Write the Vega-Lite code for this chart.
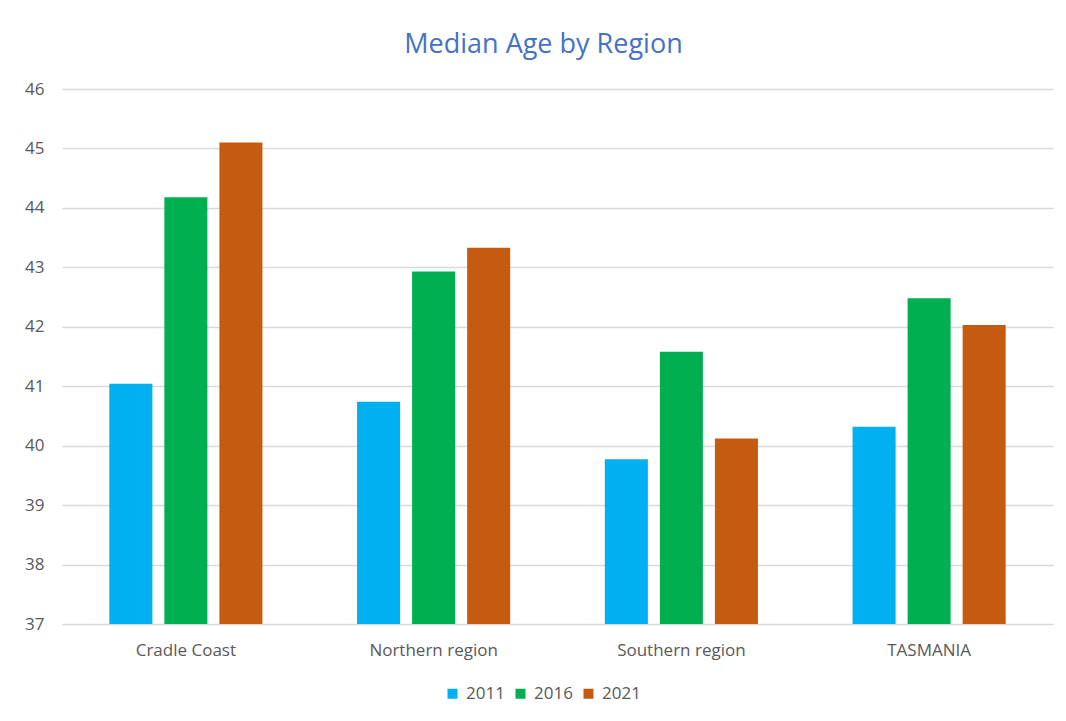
{
  "$schema": "https://vega.github.io/schema/vega-lite/v6.json",
  "autosize": {"type": "none"},
  "width": 991,
  "height": 535,
  "padding": {"left": 62, "top": 89, "right": 13, "bottom": 97},
  "background": "white",
  "title": {
    "text": "Median Age by Region",
    "font": "Open Sans",
    "fontSize": 27,
    "fontWeight": "normal",
    "color": "#4472C4",
    "anchor": "middle",
    "baseline": "alphabetic",
    "offset": 0,
    "dx": -14
  },
  "data": {
    "values": [
      {"region": "Cradle Coast", "year": "2011", "age": 41.04},
      {"region": "Cradle Coast", "year": "2016", "age": 44.18},
      {"region": "Cradle Coast", "year": "2021", "age": 45.1},
      {"region": "Northern region", "year": "2011", "age": 40.74},
      {"region": "Northern region", "year": "2016", "age": 42.93},
      {"region": "Northern region", "year": "2021", "age": 43.33},
      {"region": "Southern region", "year": "2011", "age": 39.77},
      {"region": "Southern region", "year": "2016", "age": 41.58},
      {"region": "Southern region", "year": "2021", "age": 40.12},
      {"region": "TASMANIA", "year": "2011", "age": 40.32},
      {"region": "TASMANIA", "year": "2016", "age": 42.48},
      {"region": "TASMANIA", "year": "2021", "age": 42.03}
    ]
  },
  "mark": {"type": "bar", "clip": true},
  "encoding": {
    "x": {
      "field": "region",
      "type": "nominal",
      "sort": null,
      "scale": {"paddingInner": 0.382, "paddingOuter": 0.191},
      "axis": {
        "title": null,
        "labelAngle": 0,
        "ticks": false,
        "domain": false,
        "labelPadding": 18,
        "labelFont": "Open Sans",
        "labelFontSize": 17,
        "labelColor": "#595959"
      }
    },
    "xOffset": {
      "field": "year",
      "type": "nominal",
      "scale": {"paddingInner": 0.218, "paddingOuter": 0}
    },
    "y": {
      "field": "age",
      "type": "quantitative",
      "scale": {"domain": [37, 46], "zero": false, "nice": false},
      "axis": {
        "title": null,
        "values": [37, 38, 39, 40, 41, 42, 43, 44, 45, 46],
        "ticks": false,
        "domain": false,
        "labelPadding": 18,
        "labelFont": "Open Sans",
        "labelFontSize": 17,
        "labelColor": "#595959",
        "gridColor": "#d9d9d9",
        "gridWidth": 1.5
      }
    },
    "color": {
      "field": "year",
      "type": "nominal",
      "scale": {"domain": ["2011", "2016", "2021"], "range": ["#00B0F0", "#00B050", "#C55A11"]},
      "legend": {
        "title": null,
        "orient": "none",
        "direction": "horizontal",
        "legendX": 382,
        "legendY": 596,
        "symbolType": "square",
        "symbolSize": 100,
        "symbolStrokeWidth": 0,
        "labelFont": "Open Sans",
        "labelFontSize": 17,
        "labelColor": "#595959",
        "labelOffset": 5,
        "columnPadding": 7
      }
    }
  },
  "config": {"view": {"stroke": null}}
}
